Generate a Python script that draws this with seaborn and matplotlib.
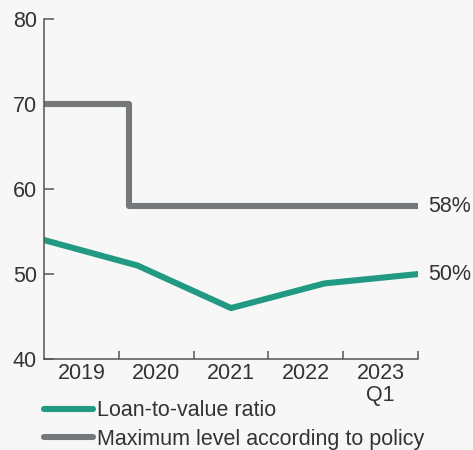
import matplotlib
matplotlib.use("Agg")
import matplotlib.pyplot as plt
from matplotlib.lines import Line2D
import seaborn as sns
import pandas as pd

# Loan-to-value ratio (per cent), observations spaced along 2019 – 2023 Q1
ltv_time = [0.0, 1.25, 2.5, 3.75, 5.0]
ltv_values = [54.0, 51.0, 46.0, 48.9, 50.0]

# Maximum level according to policy (step change during 2020)
policy_time = [0.0, 1.13, 1.13, 5.0]
policy_values = [70.0, 70.0, 58.0, 58.0]

year_labels = ["2019", "2020", "2021", "2022", "2023\nQ1"]
y_ticks = [40, 50, 60, 70, 80]

TEAL = "#229a83"
GREY = "#74787b"
TEXT = "#333333"
SPINE = "#555555"
BG = "#f7f7f7"
FS = 15.5

sns.set_theme(style="ticks")
plt.rcParams["font.family"] = ["Liberation Sans", "DejaVu Sans"]

fig = plt.figure(figsize=(4.73, 4.50), dpi=100, facecolor=BG)
ax = fig.add_axes([0.093, 0.202, 0.791, 0.756], facecolor=BG)

ltv_df = pd.DataFrame({"t": ltv_time, "v": ltv_values})
pol_df = pd.DataFrame({"t": policy_time, "v": policy_values})

sns.lineplot(data=pol_df, x="t", y="v", ax=ax, color=GREY, lw=4.4,
             sort=False, estimator=None, errorbar=None,
             solid_capstyle="round", solid_joinstyle="round")
sns.lineplot(data=ltv_df, x="t", y="v", ax=ax, color=TEAL, lw=4.4,
             sort=False, estimator=None, errorbar=None,
             solid_capstyle="round", solid_joinstyle="round")

ax.set_xlim(0, 5)
ax.set_ylim(40, 80)
ax.set_xlabel("")
ax.set_ylabel("")

for side in ("top", "right"):
    ax.spines[side].set_visible(False)
for side in ("left", "bottom"):
    ax.spines[side].set_color(SPINE)
    ax.spines[side].set_linewidth(1.1)

ax.set_yticks(y_ticks)
ax.set_yticklabels([str(v) for v in y_ticks])
ax.tick_params(axis="y", direction="in", length=7, width=1.1, color=SPINE,
               labelsize=FS, labelcolor=TEXT, pad=5)

# boundaries between years carry the tick marks, labels sit in between
ax.set_xticks([1, 2, 3, 4, 5])
ax.set_xticklabels([])
ax.set_xticks([0.5, 1.5, 2.5, 3.5, 4.5], minor=True)
ax.set_xticklabels(year_labels, minor=True, linespacing=1.05)
ax.tick_params(axis="x", which="major", direction="in", length=5.5,
               width=1.1, color=SPINE)
ax.tick_params(axis="x", which="minor", length=0, labelsize=FS,
               labelcolor=TEXT, pad=3)

# end-of-series value labels
ax.annotate(f"{policy_values[-1]:.0f}%", xy=(policy_time[-1], policy_values[-1]),
            xytext=(7, 0), textcoords="offset points", va="center",
            ha="left", fontsize=FS, color=TEXT, annotation_clip=False)
ax.annotate(f"{ltv_values[-1]:.0f}%", xy=(ltv_time[-1], ltv_values[-1]),
            xytext=(7, 0), textcoords="offset points", va="center",
            ha="left", fontsize=FS, color=TEXT, annotation_clip=False)

handles = [
    Line2D([], [], color=TEAL, lw=4.4, solid_capstyle="round"),
    Line2D([], [], color=GREY, lw=4.4, solid_capstyle="round"),
]
fig.legend(handles, ["Loan-to-value ratio", "Maximum level according to policy"],
           loc="upper left", bbox_to_anchor=(0.092, 0.111), frameon=False,
           fontsize=FS, labelcolor=TEXT, handlelength=2.3, handletextpad=0.2,
           labelspacing=0.35, borderpad=0, borderaxespad=0)

fig.savefig("out.png", dpi=100, facecolor=BG)
